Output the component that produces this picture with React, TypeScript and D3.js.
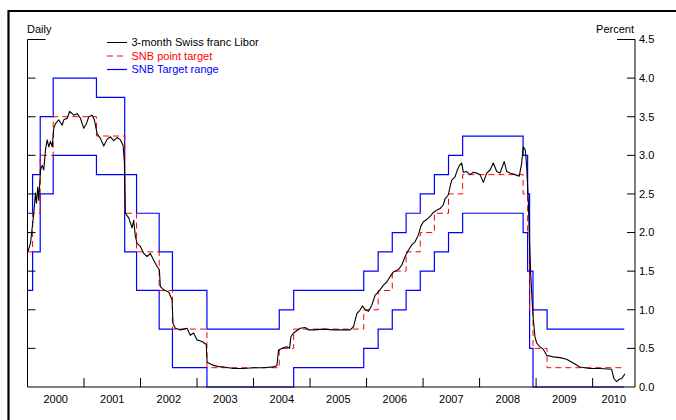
import React, { useEffect } from 'react';
import * as d3 from 'd3';

// ---------- data ----------
const yearLabels = ['2000', '2001', '2002', '2003', '2004', '2005', '2006', '2007', '2008', '2009', '2010'];
const yTickValues = [0, 0.5, 1, 1.5, 2, 2.5, 3, 3.5, 4, 4.5];

// 3-month Swiss franc Libor (decimal year, percent)
const liborYears = [
  2000.005, 2000.053, 2000.111, 2000.141, 2000.159, 2000.182, 2000.2, 2000.23, 2000.26, 2000.288,
  2000.318, 2000.348, 2000.377, 2000.407, 2000.437, 2000.465, 2000.495, 2000.553, 2000.613, 2000.642,
  2000.702, 2000.748, 2000.818, 2000.879, 2000.937, 2000.995, 2001.043, 2001.084, 2001.144, 2001.184,
  2001.232, 2001.29, 2001.349, 2001.409, 2001.467, 2001.526, 2001.586, 2001.644, 2001.692, 2001.715,
  2001.732, 2001.791, 2001.851, 2001.879, 2001.909, 2001.939, 2001.998, 2002.056, 2002.116, 2002.174,
  2002.233, 2002.293, 2002.333, 2002.351, 2002.409, 2002.498, 2002.558, 2002.575, 2002.616, 2002.705,
  2002.823, 2002.881, 2002.94, 2003.0, 2003.088, 2003.164, 2003.177, 2003.293, 2003.412, 2003.47,
  2003.647, 2003.824, 2004.0, 2004.177, 2004.354, 2004.414, 2004.442, 2004.502, 2004.591, 2004.637,
  2004.661, 2004.707, 2004.826, 2004.914, 2004.973, 2005.061, 2005.238, 2005.415, 2005.533, 2005.71,
  2005.768, 2005.828, 2005.887, 2005.927, 2005.975, 2006.033, 2006.093, 2006.152, 2006.21, 2006.298,
  2006.358, 2006.417, 2006.475, 2006.563, 2006.624, 2006.682, 2006.74, 2006.8, 2006.859, 2006.917,
  2006.96, 2007.005, 2007.065, 2007.124, 2007.182, 2007.242, 2007.301, 2007.359, 2007.389, 2007.419,
  2007.447, 2007.477, 2007.507, 2007.566, 2007.596, 2007.642, 2007.684, 2007.712, 2007.772, 2007.83,
  2007.889, 2007.949, 2008.008, 2008.066, 2008.126, 2008.185, 2008.243, 2008.303, 2008.361, 2008.437,
  2008.48, 2008.538, 2008.627, 2008.702, 2008.745, 2008.773, 2008.809, 2008.833, 2008.862, 2008.88,
  2008.904, 2008.927, 2008.95, 2008.98, 2009.01, 2009.068, 2009.127, 2009.187, 2009.304, 2009.422,
  2009.54, 2009.657, 2009.775, 2009.952, 2010.129, 2010.336, 2010.376, 2010.424, 2010.47, 2010.517,
  2010.571,
];
const liborValues = [
  1.75, 1.86, 2.25, 2.51, 2.38, 2.59, 2.42, 2.81, 2.87, 2.81,
  3.07, 3.2, 3.11, 3.18, 3.11, 3.35, 3.41, 3.46, 3.39, 3.46,
  3.48, 3.57, 3.52, 3.54, 3.48, 3.35, 3.41, 3.5, 3.52, 3.46,
  3.28, 3.22, 3.12, 3.21, 3.24, 3.19, 3.23, 3.2, 3.13, 2.9,
  2.25, 2.19, 2.06, 2.16, 1.95, 1.86, 1.82, 1.73, 1.69, 1.73,
  1.64, 1.56, 1.52, 1.3, 1.26, 1.23, 1.13, 0.82, 0.76, 0.74,
  0.76, 0.67, 0.7, 0.61, 0.59, 0.55, 0.32, 0.28, 0.26, 0.26,
  0.24, 0.24, 0.25, 0.25, 0.26, 0.28, 0.48, 0.5, 0.52, 0.5,
  0.65, 0.7, 0.76, 0.77, 0.74, 0.74, 0.75, 0.74, 0.74, 0.74,
  0.78, 0.95, 1.0, 1.05, 1.0, 0.98, 1.06, 1.19, 1.23, 1.32,
  1.36, 1.43, 1.49, 1.52, 1.58, 1.69, 1.77, 1.84, 1.88, 1.97,
  2.08, 2.14, 2.17, 2.21, 2.26, 2.29, 2.31, 2.36, 2.44, 2.46,
  2.49, 2.59, 2.68, 2.72, 2.79, 2.87, 2.9, 2.78, 2.79, 2.75,
  2.78, 2.77, 2.75, 2.65, 2.77, 2.81, 2.9, 2.79, 2.77, 2.92,
  2.79, 2.77, 2.75, 2.73, 2.9, 3.11, 3.07, 2.85, 2.42, 1.95,
  1.47, 1.15, 0.88, 0.65, 0.57, 0.52, 0.49, 0.41, 0.39, 0.38,
  0.36, 0.31, 0.26, 0.24, 0.24, 0.23, 0.11, 0.07, 0.1, 0.11,
  0.17,
];

// SNB target regimes: start date (decimal year), range and point target
const targetStart = [
  2000.0, 2000.09, 2000.225, 2000.455, 2001.22, 2001.72, 2001.93, 2002.33, 2002.565, 2003.175,
  2004.455, 2004.71, 2005.95, 2006.205, 2006.455, 2006.70, 2006.95, 2007.20, 2007.45, 2007.70,
  2008.77, 2008.85, 2008.885, 2008.945, 2009.195,
];
const rangeLower = [
  1.25, 1.75, 2.5, 3.0, 2.75, 1.75, 1.25, 0.75, 0.25, 0.0,
  0.0, 0.25, 0.5, 0.75, 1.0, 1.25, 1.5, 1.75, 2.0, 2.25,
  2.0, 1.5, 0.5, 0.0, 0.0,
];
const rangeUpper = [
  2.25, 2.75, 3.5, 4.0, 3.75, 2.75, 2.25, 1.75, 1.25, 0.75,
  1.0, 1.25, 1.5, 1.75, 2.0, 2.25, 2.5, 2.75, 3.0, 3.25,
  3.0, 2.5, 1.5, 1.0, 0.75,
];
const pointTarget = [
  1.75, 2.25, 3.0, 3.5, 3.25, 2.25, 1.75, 1.25, 0.75, 0.25,
  0.5, 0.75, 1.0, 1.25, 1.5, 1.75, 2.0, 2.25, 2.5, 2.75,
  2.5, 2.0, 1.0, 0.5, 0.25,
];
const rangeEnd = 2010.56;
const pointEnd = 2010.53;

const legendLabels = ['3-month Swiss franc Libor', 'SNB point target', 'SNB Target range'];

// ---------- chart ----------
const W = 676;
const H = 420;
const FONT = '"Liberation Sans", Arial, Helvetica, sans-serif';

export default function App() {
  useEffect(() => {
    document.body.style.margin = '0';
  }, []);

  const x = d3.scaleLinear().domain([2000, 2010.75]).range([27.5, 635]);
  const y = d3.scaleLinear().domain([0, 4.5]).range([387, 39.5]);

  const line = d3
    .line<[number, number]>()
    .x((d) => x(d[0]))
    .y((d) => y(d[1]));
  const stepLine = d3
    .line<[number, number]>()
    .x((d) => x(d[0]))
    .y((d) => y(d[1]))
    .curve(d3.curveStepAfter);

  const libor: [number, number][] = liborYears.map((t, i) => [t, liborValues[i]]);
  const mk = (vals: number[], end: number): [number, number][] => {
    const pts: [number, number][] = targetStart.map((t, i) => [t, vals[i]]);
    pts.push([end, vals[vals.length - 1]]);
    return pts;
  };
  const lowerPts = mk(rangeLower, rangeEnd);
  const upperPts = mk(rangeUpper, rangeEnd);
  const pointPts = mk(pointTarget, pointEnd);

  const [x0, x1] = x.range();
  const [yb, yt] = y.range();
  const yearBounds = yearLabels.map((_, i) => 2000 + i);

  const legendColors = ['#000000', '#ff0000', '#0000ff'];

  return (
    <svg width={W} height={H} style={{ display: 'block' }} fontFamily={FONT}>
      <rect x={0} y={0} width={W} height={H} fill="#ffffff" />
      {/* outer frame */}
      <path d={`M8.5,${H + 2} V11 H${W + 2}`} fill="none" stroke="#000" strokeWidth={2.2} />

      {/* target range */}
      <path d={stepLine(upperPts) || ''} fill="none" stroke="#0000ff" strokeWidth={1.2} />
      <path d={stepLine(lowerPts) || ''} fill="none" stroke="#0000ff" strokeWidth={1.2} />
      {/* point target */}
      <path
        d={stepLine(pointPts) || ''}
        fill="none"
        stroke="#ff0000"
        strokeWidth={1}
        strokeDasharray="6,4"
      />
      {/* libor */}
      <path d={line(libor) || ''} fill="none" stroke="#000" strokeWidth={1.1} strokeLinejoin="round" />

      {/* axes */}
      <g stroke="#000" strokeWidth={1} fill="none">
        <line x1={x0} x2={x0} y1={yt} y2={yb} />
        <line x1={x1} x2={x1} y1={yt} y2={yb} />
        <line x1={x0} x2={x1} y1={yb} y2={yb} />
        {yTickValues
          .filter((v) => v > 0)
          .map((v) => {
            const len = v === 4.5 ? 18 : 8;
            return (
              <g key={v}>
                <line x1={x0} x2={x0 + len} y1={y(v)} y2={y(v)} />
                <line x1={x1} x2={x1 - len} y1={y(v)} y2={y(v)} />
              </g>
            );
          })}
        {yearBounds
          .filter((t) => t > 2000)
          .map((t) => (
            <line key={t} x1={x(t)} x2={x(t)} y1={yb} y2={yb - 9} />
          ))}
      </g>

      {/* right axis labels */}
      <g fontSize={11} fill="#000">
        {yTickValues.map((v) => (
          <text key={v} x={x1 + 4} y={y(v)} dy="0.35em">
            {d3.format('.1f')(v)}
          </text>
        ))}
      </g>

      {/* year labels */}
      <g fontSize={11} fill="#000" textAnchor="middle">
        {yearLabels.map((lab, i) => {
          const a = x(yearBounds[i]);
          const b = i < yearLabels.length - 1 ? x(yearBounds[i] + 1) : x1;
          return (
            <text key={lab} x={(a + b) / 2} y={403}>
              {lab}
            </text>
          );
        })}
      </g>

      {/* axis titles */}
      <text x={27} y={33} fontSize={11} fill="#000">
        Daily
      </text>
      <text x={634} y={33} fontSize={11} fill="#000" textAnchor="end">
        Percent
      </text>

      {/* legend */}
      <g fontSize={11}>
        {legendLabels.map((lab, i) => {
          const ly = 42.5 + i * 13.5;
          return (
            <g key={lab}>
              <line
                x1={107}
                x2={127}
                y1={ly}
                y2={ly}
                stroke={legendColors[i]}
                strokeWidth={i === 2 ? 1.2 : 1}
                strokeDasharray={i === 1 ? '6,4' : undefined}
              />
              <text x={131.5} y={ly} dy="0.35em" fill={legendColors[i]}>
                {lab}
              </text>
            </g>
          );
        })}
      </g>
    </svg>
  );
}
